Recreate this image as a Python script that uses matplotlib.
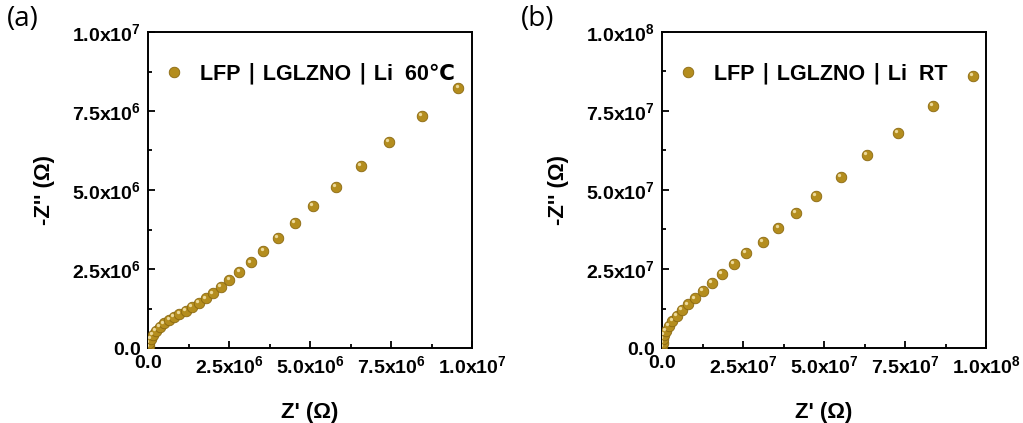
import matplotlib
matplotlib.use("Agg")
import matplotlib.pyplot as plt
from matplotlib.ticker import FuncFormatter, MultipleLocator
from matplotlib.transforms import offset_copy

plt.rcParams['font.family'] = ['Liberation Sans', 'DejaVu Sans']
plt.rcParams['mathtext.fontset'] = 'custom'
plt.rcParams['mathtext.rm'] = 'Liberation Sans'
plt.rcParams['mathtext.bf'] = 'Liberation Sans:bold'

# Nyquist data, LFP | LGLZNO | Li at 60 °C (ohm)
z_re_60 = [0.02e6, 0.04e6, 0.08e6, 0.14e6, 0.25e6, 0.37e6, 0.50e6, 0.66e6, 0.81e6,
           0.97e6, 1.16e6, 1.35e6, 1.56e6, 1.78e6, 2.00e6, 2.25e6, 2.51e6, 2.82e6,
           3.18e6, 3.56e6, 4.02e6, 4.53e6, 5.10e6, 5.80e6, 6.56e6, 7.44e6, 8.45e6, 9.58e6]
z_im_60 = [0.05e6, 0.17e6, 0.29e6, 0.42e6, 0.55e6, 0.67e6, 0.78e6, 0.89e6, 0.98e6,
           1.08e6, 1.18e6, 1.31e6, 1.43e6, 1.57e6, 1.73e6, 1.94e6, 2.15e6, 2.42e6,
           2.71e6, 3.08e6, 3.49e6, 3.97e6, 4.50e6, 5.09e6, 5.77e6, 6.52e6, 7.34e6, 8.23e6]

# Nyquist data, LFP | LGLZNO | Li at room temperature (ohm)
z_re_rt = [0.01e7, 0.02e7, 0.04e7, 0.07e7, 0.12e7, 0.22e7, 0.32e7, 0.45e7, 0.61e7,
           0.80e7, 1.01e7, 1.25e7, 1.53e7, 1.84e7, 2.21e7, 2.59e7, 3.11e7, 3.59e7,
           4.14e7, 4.76e7, 5.51e7, 6.33e7, 7.28e7, 8.35e7, 9.60e7]
z_im_rt = [0.05e7, 0.16e7, 0.29e7, 0.41e7, 0.55e7, 0.71e7, 0.86e7, 1.02e7, 1.20e7,
           1.38e7, 1.57e7, 1.81e7, 2.07e7, 2.34e7, 2.66e7, 3.00e7, 3.36e7, 3.79e7,
           4.28e7, 4.81e7, 5.41e7, 6.11e7, 6.81e7, 7.66e7, 8.61e7]

panels = [
    dict(x=z_re_60, y=z_im_60, exp=6, label='LFP \u2223 LGLZNO \u2223 Li  60\u2103', tag='(a)'),
    dict(x=z_re_rt, y=z_im_rt, exp=7, label='LFP \u2223 LGLZNO \u2223 Li  RT', tag='(b)'),
]

GOLD = '#B48D1E'
EDGE = '#8A6810'
SHINE = '#F3E2A8'

fig = plt.figure(figsize=(10.23, 4.23), dpi=100)
lefts = [148 / 1023, 662 / 1023]
W, H = 1023, 423


def sci_fmt(exp):
    def f(v, pos):
        if abs(v) < 1e-12:
            return r'$\mathbf{0.0}$'
        m = v / 10 ** exp
        if m >= 10 - 1e-9:
            return r'$\mathbf{%.1fx10^{%d}}$' % (m / 10, exp + 1)
        return r'$\mathbf{%.1fx10^{%d}}$' % (m, exp)
    return FuncFormatter(f)


for p, left in zip(panels, lefts):
    ax = fig.add_axes([left, (H - 348) / H, 324 / W, 316 / H])
    lim = 10 ** (p['exp'] + 1)
    ax.plot(p['x'], p['y'], 'o', ms=7.6, mfc=GOLD, mec=EDGE, mew=0.6,
            label=p['label'], zorder=3)
    shine_tr = offset_copy(ax.transData, fig=fig, x=-1.3, y=1.3, units='points')
    ax.plot(p['x'], p['y'], 'o', ms=2.4, mfc=SHINE, mec='none', alpha=0.9,
            transform=shine_tr, zorder=4)
    ax.set_xlim(0, lim)
    ax.set_ylim(0, lim)
    ax.xaxis.set_major_locator(MultipleLocator(lim / 4))
    ax.yaxis.set_major_locator(MultipleLocator(lim / 4))
    ax.xaxis.set_minor_locator(MultipleLocator(lim / 8))
    ax.yaxis.set_minor_locator(MultipleLocator(lim / 8))
    ax.xaxis.set_major_formatter(sci_fmt(p['exp']))
    ax.yaxis.set_major_formatter(sci_fmt(p['exp']))
    ax.tick_params(which='both', direction='in', top=False, right=False,
                   labelsize=14, width=1.3, pad=5)
    ax.tick_params(which='major', length=5)
    ax.tick_params(which='minor', length=3)
    for s in ax.spines.values():
        s.set_linewidth(1.4)
    ax.set_xlabel("Z' (\u03a9)", fontsize=16, fontweight='bold', labelpad=18)
    ax.set_ylabel("-Z'' (\u03a9)", fontsize=16, fontweight='bold', labelpad=12)
    ax.legend(loc='upper left', bbox_to_anchor=(0.0, 0.95), frameon=False,
              prop=dict(size=15.5, weight='bold'), handletextpad=0.7,
              handlelength=1.0, borderaxespad=0.3)
    ax.text(-0.435, 1.04, p['tag'], transform=ax.transAxes, fontsize=20,
            family=['Open Sans', 'DejaVu Sans'], va='center', ha='left')

fig.savefig('out.png', dpi=100)
